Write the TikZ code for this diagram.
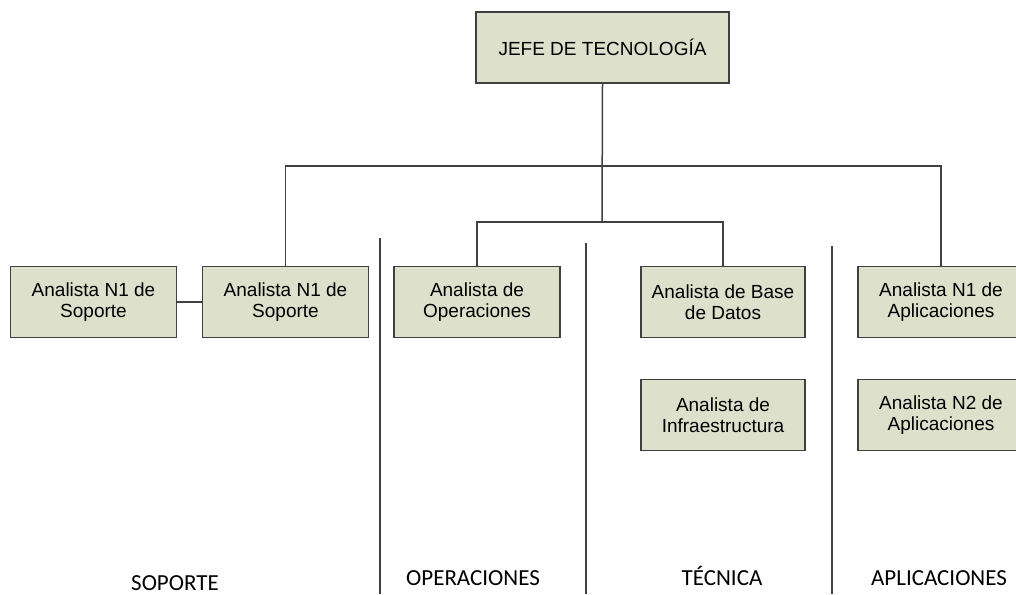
\documentclass[tikz,border=0pt]{standalone}
\usepackage{fontspec}
\setmainfont{Liberation Sans}
\newfontfamily\areafont{Carlito}
\definecolor{boxfill}{RGB}{221,224,203}
\definecolor{boxline}{RGB}{64,64,64}
\tikzset{
  cargo/.style={draw=boxline, line width=1.5pt, fill=boxfill, minimum width=166pt,
    minimum height=71pt, align=center, inner sep=0pt,
    font=\fontsize{19}{21.5}\selectfont},
  enlace/.style={draw=boxline, line width=1.5pt},
  separa/.style={draw=boxline, line width=1.5pt},
  area/.style={anchor=base, font=\areafont\fontsize{23}{26}\selectfont}
}
\begin{document}
\begin{tikzpicture}[x=1pt, y=-1pt]

  \useasboundingbox (0,0) rectangle (1016,594);

  \node[cargo, minimum width=253pt] (jefe) at (602.5,47.5) {JEFE DE TECNOLOGÍA};

  \node[cargo] (sopuno) at (93.5,302) {Analista N1 de\\Soporte};
  \node[cargo] (sopdos) at (285.5,302) {Analista N1 de\\Soporte};
  \node[cargo] (oper) at (477,302) {Analista de\\Operaciones};
  \node[cargo, minimum width=164pt] (bdatos) at (723,302) {Analista de Base\\de Datos};
  \node[cargo] (apluno) at (941,302) {Analista N1 de\\Aplicaciones};
  \node[cargo, minimum width=164pt] (infra) at (723,415) {Analista de\\Infraestructura};
  \node[cargo] (apldos) at (941,415) {Analista N2 de\\Aplicaciones};

  \coordinate (barra) at (602,166);
  \coordinate (ramal) at (602,222);

  \draw[enlace] (jefe.south) -- (ramal);
  \draw[enlace] (sopdos.north) |- (barra) -| (apluno.north);
  \draw[enlace] (oper.north) |- (ramal) -| (bdatos.north);
  \draw[enlace] (sopuno) -- (sopdos);

  % columnas
  \draw[separa] (380,238) -- (380,594);
  \draw[separa] (586,243) -- (586,594);
  \draw[separa] (832,246) -- (832,594);

  \node[area] (tsop) at (175,590) {SOPORTE};
  \node[area] (tope) at (473,585) {OPERACIONES};
  \node[area] (ttec) at (722,585) {TÉCNICA};
  \node[area] (tapl) at (939,585) {APLICACIONES};

\end{tikzpicture}
\end{document}
